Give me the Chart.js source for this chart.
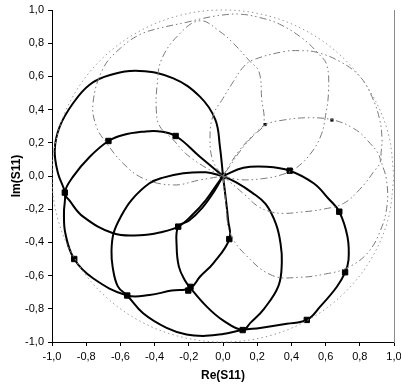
<!DOCTYPE html>
<html>
<head>
<meta charset="utf-8">
<script src="https://cdn.jsdelivr.net/npm/chart.js@4.4.1/dist/chart.umd.min.js"></script>
<style>
  html, body { margin: 0; padding: 0; background: #fff; }
  canvas { display: block; }
</style>
</head>
<body>
<canvas id="c" width="401" height="387"></canvas>
<script>
// ---- data (x = Re(S11), y = Im(S11)) ----
const xTicks = [-1, -0.8, -0.6, -0.4, -0.2, 0, 0.2, 0.4, 0.6, 0.8, 1];
const yTicks = [-1, -0.8, -0.6, -0.4, -0.2, 0, 0.2, 0.4, 0.6, 0.8, 1];

// black (solid) loops
const loop1 = [[0,0],[-0.018,0.177],[-0.045,0.34],[-0.135,0.478],[-0.29,0.588],[-0.486,0.633],[-0.66,0.608],[-0.78,0.55],[-0.877,0.438],[-0.955,0.297],[-0.984,0.157],[-0.965,0.016],[-0.925,-0.1],[-0.93,-0.22],[-0.922,-0.345],[-0.87,-0.5],[-0.76,-0.616],[-0.56,-0.72],[-0.43,-0.717],[-0.3,-0.69],[-0.19,-0.675],[-0.135,-0.607],[-0.057,-0.526],[0.037,-0.38],[0.03,-0.265],[0.012,-0.1],[0,0]];
const loop2 = [[0,0],[-0.135,0.116],[-0.277,0.241],[-0.38,0.27],[-0.467,0.267],[-0.584,0.247],[-0.67,0.211],[-0.779,0.116],[-0.877,-0.004],[-0.925,-0.1],[-0.896,-0.15],[-0.818,-0.245],[-0.642,-0.345],[-0.486,-0.357],[-0.37,-0.34],[-0.262,-0.305],[-0.18,-0.235],[-0.1,-0.145],[-0.035,-0.05],[0,0]];
const loop3 = [[0,0],[-0.1,0.022],[-0.232,0.016],[-0.35,-0.01],[-0.43,-0.044],[-0.535,-0.145],[-0.6,-0.25],[-0.64,-0.345],[-0.652,-0.45],[-0.645,-0.55],[-0.615,-0.665],[-0.56,-0.72],[-0.467,-0.827],[-0.33,-0.915],[-0.213,-0.955],[-0.1,-0.963],[0,-0.952],[0.115,-0.928],[0.217,-0.915],[0.373,-0.89],[0.49,-0.867],[0.568,-0.787],[0.666,-0.667],[0.714,-0.58],[0.734,-0.506],[0.728,-0.366],[0.68,-0.215],[0.62,-0.14],[0.53,-0.044],[0.39,0.032],[0.256,0.056],[0.12,0.05],[0,0]];
const loop4 = [[0,0],[0.08,-0.04],[0.17,-0.1],[0.25,-0.17],[0.31,-0.29],[0.337,-0.41],[0.344,-0.52],[0.325,-0.66],[0.24,-0.8],[0.16,-0.885],[0.115,-0.928],[0,-0.87],[-0.095,-0.787],[-0.19,-0.675],[-0.225,-0.625],[-0.258,-0.546],[-0.271,-0.426],[-0.262,-0.305],[-0.2,-0.27],[-0.12,-0.19],[-0.05,-0.09],[0,0]];
const markers = [[0,0],[-0.67,0.211],[-0.277,0.241],[-0.925,-0.1],[-0.262,-0.305],[-0.87,-0.5],[-0.56,-0.72],[-0.19,-0.668],[-0.203,-0.69],[0.037,-0.38],[0.115,-0.928],[0.49,-0.867],[0.714,-0.58],[0.68,-0.215],[0.39,0.032]];

// grey (dash-dot) loops
const grey1 = [[0,0],[0.018,-0.177],[0.04,-0.34],[0.135,-0.478],[0.29,-0.6],[0.45,-0.61],[0.6,-0.59],[0.72,-0.556],[0.84,-0.47],[0.92,-0.33],[0.96,-0.17],[0.955,-0.016],[0.925,0.1],[0.93,0.22],[0.915,0.345],[0.87,0.48],[0.8,0.6],[0.685,0.689],[0.548,0.745],[0.45,0.755],[0.353,0.749],[0.178,0.7],[0.12,0.658],[0.06,0.568],[0,0.468],[-0.057,0.367],[-0.076,0.227],[-0.057,0.086],[0,0]];
const grey2 = [[0,0],[0.135,-0.12],[0.2,-0.18],[0.277,-0.215],[0.353,-0.225],[0.45,-0.218],[0.584,-0.2],[0.705,-0.165],[0.8,-0.08],[0.877,0.02],[0.92,0.1],[0.84,0.22],[0.763,0.287],[0.646,0.337],[0.51,0.351],[0.353,0.337],[0.246,0.307],[0.17,0.235],[0.1,0.15],[0.04,0.06],[0,0]];
const grey3 = [[0,0],[0.1,-0.022],[0.232,-0.016],[0.35,0.01],[0.43,0.05],[0.52,0.145],[0.575,0.25],[0.597,0.348],[0.617,0.508],[0.607,0.669],[0.56,0.735],[0.467,0.827],[0.33,0.915],[0.213,0.955],[0.1,0.975],[0,0.97],[-0.115,0.95],[-0.217,0.925],[-0.373,0.89],[-0.49,0.85],[-0.6,0.77],[-0.7,0.65],[-0.76,0.44],[-0.74,0.297],[-0.68,0.197],[-0.584,0.076],[-0.467,-0.014],[-0.29,-0.054],[-0.135,-0.024],[0,0]];
const grey4 = [[0,0],[-0.1,0.05],[-0.22,0.137],[-0.29,0.217],[-0.37,0.3],[-0.39,0.4],[-0.385,0.55],[-0.36,0.7],[-0.26,0.85],[-0.135,0.935],[-0.018,0.87],[0.06,0.8],[0.158,0.69],[0.21,0.63],[0.226,0.468],[0.236,0.307],[0.17,0.24],[0.1,0.16],[0.04,0.07],[0,0]];
const greyMarkers = [[0.246,0.31],[0.637,0.337]];

// |S11| = 1 circle, read at 15 degree steps
const unitCircle = [[1,0],[0.966,0.259],[0.866,0.5],[0.707,0.707],[0.5,0.866],[0.259,0.966],[0,1],[-0.259,0.966],[-0.5,0.866],[-0.707,0.707],[-0.866,0.5],[-0.966,0.259],[-1,0],[-0.966,-0.259],[-0.866,-0.5],[-0.707,-0.707],[-0.5,-0.866],[-0.259,-0.966],[0,-1],[0.259,-0.966],[0.5,-0.866],[0.707,-0.707],[0.866,-0.5],[0.966,-0.259],[1,0]];

// ---- chart ----
const pts = a => a.map(p => ({x: p[0], y: p[1]}));
const FONT = "'Liberation Sans', Arial, sans-serif";
const fmt = v => (Math.abs(v) < 1e-9 ? 0 : v).toFixed(1).replace('.', ',');

function blackLine(a) {
  return { data: pts(a), showLine: true, borderColor: '#000', borderWidth: 2, pointRadius: 0, tension: 0.4, fill: false };
}
function greyLine(a) {
  return { data: pts(a), showLine: true, borderColor: '#7a7a7a', borderWidth: 1, borderDash: [7, 3, 1.5, 3, 1.5, 3], pointRadius: 0, tension: 0.4, fill: false };
}

const datasets = [
  { data: pts(unitCircle), showLine: true, borderColor: '#9a9a9a', borderWidth: 1, borderDash: [1.5, 3], pointRadius: 0, tension: 0.35, fill: false, clip: 4 },
  greyLine(grey1), greyLine(grey2), greyLine(grey3), greyLine(grey4),
  { data: pts(greyMarkers), showLine: false, pointStyle: 'rect', pointRadius: 2.2, backgroundColor: '#000', borderColor: '#000', borderWidth: 0 },
  blackLine(loop1), blackLine(loop2), blackLine(loop3), blackLine(loop4),
  { data: pts(markers), showLine: false, pointStyle: 'rect', pointRadius: 3.8, backgroundColor: '#000', borderColor: '#000', borderWidth: 1 }
];

new Chart(document.getElementById('c'), {
  type: 'scatter',
  data: { datasets },
  options: {
    responsive: false,
    animation: false,
    events: [],
    layout: { padding: { left: 0, right: 7, top: 10, bottom: 0 } },
    plugins: { legend: { display: false }, tooltip: { enabled: false } },
    scales: {
      x: {
        type: 'linear', min: -1, max: 1,
        afterBuildTicks: s => { s.ticks = xTicks.map(v => ({ value: v })); },
        ticks: { callback: fmt, color: '#000', padding: 4, maxRotation: 0, autoSkip: false, font: { family: FONT, size: 11 } },
        grid: { display: true, drawOnChartArea: false, tickLength: 4, color: '#000' },
        border: { display: true, color: '#000', width: 1 },
        title: { display: true, text: 'Re(S11)', color: '#000', font: { family: FONT, size: 12, weight: 'bold' }, padding: { top: 0, bottom: 4 } },
        afterFit: s => { s.height = 45; s.paddingLeft = 0; s.paddingRight = 0; }
      },
      y: {
        type: 'linear', min: -1, max: 1,
        afterBuildTicks: s => { s.ticks = yTicks.map(v => ({ value: v })); },
        ticks: { callback: fmt, color: '#000', padding: 4, autoSkip: false, font: { family: FONT, size: 11 } },
        grid: { display: true, drawOnChartArea: false, tickLength: 4, color: '#000' },
        border: { display: true, color: '#000', width: 1 },
        title: { display: true, text: 'Im(S11)', color: '#000', font: { family: FONT, size: 12, weight: 'bold' }, padding: { top: 9, bottom: 0 } },
        afterFit: s => { s.width = 52; s.paddingTop = 0; s.paddingBottom = 0; }
      },
      y2: {
        type: 'linear', position: 'right', min: -1, max: 1,
        ticks: { display: false },
        grid: { display: false },
        border: { display: true, color: '#8a8a8a', width: 1 },
        afterFit: s => { s.width = 0; s.paddingTop = 0; s.paddingBottom = 0; }
      }
    }
  }
});
</script>
</body>
</html>
